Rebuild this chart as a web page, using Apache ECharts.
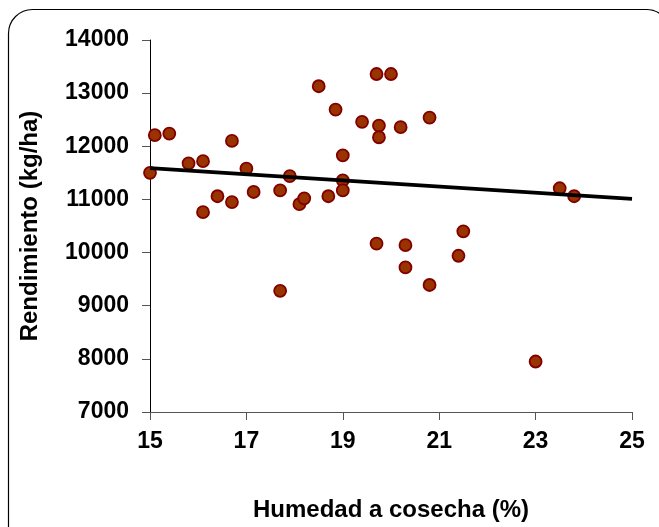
<!DOCTYPE html>
<html>
<head>
<meta charset="utf-8">
<script src="https://cdn.jsdelivr.net/npm/echarts@6/dist/echarts.min.js"></script>
<style>
  html, body { margin: 0; padding: 0; background: #fff; }
  #chart { width: 659px; height: 527px; }
</style>
</head>
<body>
<div id="chart"></div>
<script>
// Humedad a cosecha (%) vs rendimiento (kg/ha)

const humedad = [15.0, 15.1, 15.4, 15.8, 16.1, 16.1, 16.4, 16.7, 16.7, 17.0,
    17.15, 17.7, 17.7, 17.9, 18.1, 18.2, 18.5, 18.7, 18.85, 19.0,
    19.0, 19.0, 19.4, 19.7, 19.7, 19.75, 19.75, 20.0, 20.2, 20.3,
    20.3, 20.8, 20.8, 21.4, 21.5, 23.0, 23.5, 23.8];
const rendimiento = [11500, 12210, 12240, 11680, 11720, 10760, 11060, 12100, 10950, 11580,
    11140, 11170, 9280, 11440, 10910, 11020, 13130, 11060, 12690, 11830,
    11360, 11170, 12460, 13360, 10170, 12390, 12170, 13360, 12360, 10140,
    9720, 12540, 9390, 9940, 10400, 7950, 11210, 11060];

// linea de tendencia (extremos)
const trendX = [15, 25];
const trendY = [11590, 11010];

const xTicks = [15, 17, 19, 21, 23, 25];
const yTicks = [7000, 8000, 9000, 10000, 11000, 12000, 13000, 14000];

const chart = echarts.init(document.getElementById('chart'));
const font = 'Liberation Sans, Arial, sans-serif';

chart.setOption({
    animation: false,
    graphic: [{
        type: 'rect',
        shape: { x: 8.5, y: 9.5, width: 662, height: 540, r: 24 },
        style: { fill: 'none', stroke: '#000', lineWidth: 1.2 },
        z: -1
    }],
    grid: { left: 150, right: 27, top: 40, bottom: 111 },
    xAxis: {
        type: 'value',
        min: xTicks[0],
        max: xTicks[xTicks.length - 1],
        interval: 2,
        name: 'Humedad a cosecha (%)',
        nameLocation: 'middle',
        nameGap: 86,
        nameTextStyle: { fontFamily: font, fontWeight: 'bold', fontSize: 24, color: '#000' },
        axisLine: { lineStyle: { color: '#555', width: 1 } },
        axisTick: { length: 8, lineStyle: { color: '#555' } },
        axisLabel: { fontFamily: font, fontWeight: 'bold', fontSize: 23, color: '#000', margin: 18 },
        splitLine: { show: false }
    },
    yAxis: {
        type: 'value',
        min: yTicks[0],
        max: yTicks[yTicks.length - 1],
        interval: 1000,
        name: 'Rendimiento (kg/ha)',
        nameLocation: 'middle',
        nameGap: 108,
        nameTextStyle: { fontFamily: font, fontWeight: 'bold', fontSize: 24, color: '#000' },
        axisLine: { show: true, lineStyle: { color: '#000', width: 1 } },
        axisTick: { show: true, length: 8, lineStyle: { color: '#555' } },
        axisLabel: {
            fontFamily: font, fontWeight: 'bold', fontSize: 23, color: '#000', margin: 21,
            formatter: v => String(v)
        },
        splitLine: { show: false }
    },
    series: [
        {
            type: 'line',
            data: trendX.map((x, i) => [x, trendY[i]]),
            symbol: 'none',
            lineStyle: { color: '#000', width: 3.8 },
            z: 3
        },
        {
            type: 'scatter',
            data: humedad.map((x, i) => [x, rendimiento[i]]),
            symbolSize: 12,
            itemStyle: { color: '#993300', borderColor: '#800000', borderWidth: 1.8, opacity: 1 },
            z: 2
        }
    ]
});
</script>
</body>
</html>
